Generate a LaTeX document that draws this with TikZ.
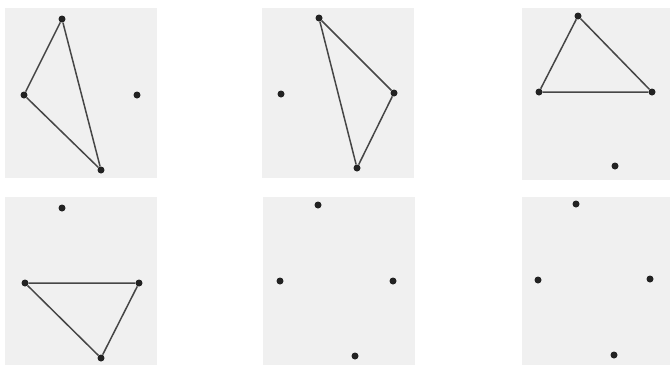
\documentclass[tikz,border=0pt]{standalone}
\usepackage{xcolor}
\usepackage{tikz}
\usetikzlibrary{positioning}

\definecolor{panelgray}{RGB}{240,240,240}
\definecolor{dotgray}{RGB}{34,34,34}
\definecolor{edgegray}{RGB}{70,70,70}

\begin{document}
\begin{tikzpicture}[
  x=1pt, y=-1pt,
  panel/.style={fill=panelgray, draw=none},
  pt/.style={circle, fill=dotgray, inner sep=0pt, minimum size=7pt},
  edge/.style={draw=edgegray, line width=1.5pt}
]
\useasboundingbox (0,0) rectangle (670,365);

% Panels
\fill[panel] (5,8) rectangle (157,178);
\fill[panel] (262,8) rectangle (414,178);
\fill[panel] (522,8) rectangle (670,180);
\fill[panel] (5,197) rectangle (157,365);
\fill[panel] (263,197) rectangle (415,365);
\fill[panel] (522,197) rectangle (670,365);

% Top left
\node[pt] (a1) at (62,19) {};
\node[pt] (a2) at (24,95) {};
\node[pt] (a3) at (101,170) {};
\node[pt] (a4) at (137,95) {};
\draw[edge] (a1) -- (a2) -- (a3) -- (a1);

% Top middle
\node[pt] (b1) at (319,18) {};
\node[pt] (b2) at (394,93) {};
\node[pt] (b3) at (357,168) {};
\node[pt] (b4) at (281,94) {};
\draw[edge] (b1) -- (b2) -- (b3) -- (b1);

% Top right
\node[pt] (c1) at (578,16) {};
\node[pt] (c2) at (539,92) {};
\node[pt] (c3) at (652,92) {};
\node[pt] (c4) at (615,166) {};
\draw[edge] (c1) -- (c2) -- (c3) -- (c1);

% Bottom left
\node[pt] (d1) at (62,208) {};
\node[pt] (d2) at (25,283) {};
\node[pt] (d3) at (139,283) {};
\node[pt] (d4) at (101,358) {};
\draw[edge] (d2) -- (d3) -- (d4) -- (d2);

% Bottom middle
\node[pt] (e1) at (318,205) {};
\node[pt] (e2) at (280,281) {};
\node[pt] (e3) at (393,281) {};
\node[pt] (e4) at (355,356) {};

% Bottom right
\node[pt] (f1) at (576,204) {};
\node[pt] (f2) at (538,280) {};
\node[pt] (f3) at (650,279) {};
\node[pt] (f4) at (614,355) {};
\end{tikzpicture}
\end{document}
